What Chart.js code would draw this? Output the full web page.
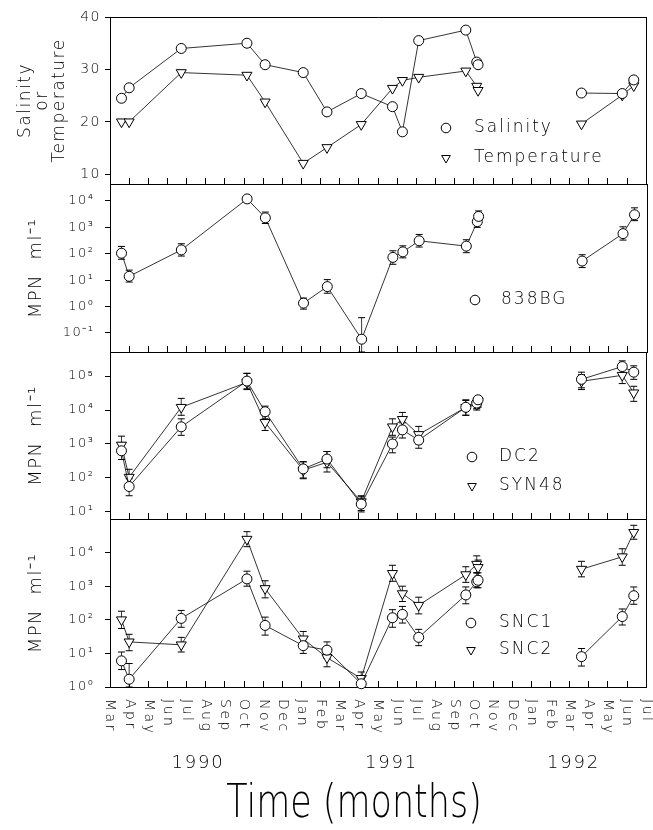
<!DOCTYPE html>
<html><head><meta charset="utf-8">
<script src="https://cdn.jsdelivr.net/npm/chart.js@4.4.1/dist/chart.umd.min.js"></script>
<style>
html,body{margin:0;padding:0;background:#fff;}
#wrap{position:relative;width:653px;height:830px;overflow:hidden;background:#fff;}
canvas{position:absolute;left:0;top:0;}
</style></head><body>
<div id="wrap">
<canvas id="c1" width="653" height="830"></canvas>
<canvas id="c2" width="653" height="830"></canvas>
<canvas id="c3" width="653" height="830"></canvas>
<canvas id="c4" width="653" height="830"></canvas>
</div>
<script>
// ---------- DATA ----------
const monthLabels = ['Mar','Apr','May','Jun','Jul','Aug','Sep','Oct','Nov','Dec','Jan','Feb',
  'Mar','Apr','May','Jun','Jul','Aug','Sep','Oct','Nov','Dec','Jan','Feb','Mar','Apr','May','Jun','Jul'];
const yearLabels = ['1990','1991','1992'];
const yearLabelMonths = [4.6, 14.7, 24.2];
const axisTitleX = 'Time (months)';

// sampling times, in months after the start of March 1990
const sampleMonths = [0.6, 1.0, 3.72, 7.15, 8.1, 10.09, 11.33, 13.12, 14.75, 15.27, 16.12, 18.58, 19.15, 19.22, 24.62, 26.75, 27.35];
const lastSample1991 = 13; // line breaks after this sample

const salinity    = [24.5, 26.5, 34.0, 35.0, 30.9, 29.4, 21.9, 25.4, 22.9, 18.1, 35.5, 37.5, 31.4, 30.9, 25.5, 25.4, 28.0];
const temperature = [20.0, 20.0, 29.4, 28.9, 23.8, 12.1, 15.1, 19.5, 26.4, 27.9, 28.5, 29.7, 26.8, 26.0, 19.6, 25.1, 26.9];

const bg838   = [105, 14, 140, 12000, 2300, 1.35, 5.7, 0.058, 73, 118, 310, 195, 1650, 2600, 53, 580, 3000];
const bg838Hi = [190, 24, 240, null, 3800, 2.1, 10.5, 0.38, 130, 200, 540, 340, 2700, 4200, 92, 1050, 5500];
const bg838Lo = [62, 8.5, 82, null, 1400, 0.8, 3.2, 0.019, 40, 70, 180, 110, 1000, 1600, 30, 330, 1800];

const dc2   = [630, 56, 3200, 71000, 8900, 185, 360, 17, 1000, 2600, 1300, 12000, 16000, 20000, 80000, 190000, 130000];
const dc2Hi = [1100, 95, 5500, 120000, 13000, 300, 600, 28, 1600, 4200, 2200, 19000, 22000, 25000, 130000, 280000, 200000];
const dc2Lo = [350, 30, 1800, 42000, 5500, 100, 200, 10, 550, 1500, 750, 7000, 11000, 13000, 45000, 110000, 80000];

const syn48   = [930, 105, 12000, 65000, 4300, 170, 290, 20, 3200, 5300, 1900, 12000, 14500, 18500, 70000, 105000, 32000];
const syn48Hi = [1700, 180, 22000, 120000, 7000, 300, 600, 30, 5500, 8500, 3300, 20000, 20000, 24000, 110000, 170000, 50000];
const syn48Lo = [500, 60, 7000, 40000, 2500, 95, 150, 11, 1800, 3000, 1000, 7000, 10000, 12000, 40000, 60000, 18000];

const snc1   = [6, 1.7, 110, 1650, 68, 17, 12.5, 1.25, 115, 145, 30, 550, 1350, 1500, 8, 125, 520];
const snc1Hi = [11, 5, 190, 2800, 120, 30, 22, 1.8, 200, 250, 52, 950, 2500, 2500, 14, 210, 950];
const snc1Lo = [3.3, 1.0, 60, 1000, 35, 10, 7, 1.0, 60, 80, 17, 300, 900, 900, 4.2, 70, 290];

const snc2   = [100, 22, 18, 25000, 850, 27, 7.5, 1.8, 2400, 600, 270, 2200, 4500, 3600, 3200, 7500, 40000];
const snc2Hi = [180, 37, 30, 42000, 1450, 45, 13, 2.8, 4200, 1000, 470, 3800, 8000, 6000, 5500, 13000, 65000];
const snc2Lo = [55, 12, 11, 15000, 450, 16, 4, 1.1, 1400, 350, 150, 1300, 2500, 2000, 1900, 4200, 25000];

const ticksPanel1 = [10, 20, 30, 40];
const ticksPanel2 = [0.1, 1, 10, 100, 1000, 10000];
const ticksPanel3 = [10, 100, 1000, 10000, 100000];
const ticksPanel4 = [1, 10, 100, 1000, 10000];

// ---------- BUILDERS ----------
const FAMILY = "'DejaVu Sans', 'Liberation Sans', sans-serif";
const WT = 200;
const SUP = {'-':'\u207B','0':'\u2070','1':'\u00B9','2':'\u00B2','3':'\u00B3','4':'\u2074','5':'\u2075','6':'\u2076','7':'\u2077','8':'\u2078','9':'\u2079'};
function powLabel(v){ const e = Math.round(Math.log10(v)); return '10' + String(e).split('').map(c => SUP[c]).join(''); }

function series(vals){
  const out = [];
  vals.forEach((v, i) => {
    out.push({x: sampleMonths[i], y: v});
    if (i === lastSample1991) out.push({x: (sampleMonths[i] + sampleMonths[i+1]) / 2, y: null});
  });
  return out;
}
function errorBars(lo, hi){
  const out = [];
  lo.forEach((l, i) => {
    if (l == null || hi[i] == null) return;
    out.push({x: sampleMonths[i], y: l}, {x: sampleMonths[i], y: hi[i]}, {x: sampleMonths[i], y: null});
  });
  return out;
}
function seriesDs(label, vals, marker){
  const tri = marker === 'tri';
  return {label, data: series(vals), borderColor:'#000', borderWidth:0.8, tension:0,
    pointStyle: tri ? 'triangle' : 'circle', pointRotation: tri ? 180 : 0, pointRadius: tri ? 5.8 : 5,
    pointBackgroundColor:'#fff', pointBorderColor:'#000', pointBorderWidth:1, clip:8, order:0, spanGaps:false};
}
function errDs(lo, hi){
  return {label:'err', data: errorBars(lo, hi), borderColor:'#000', borderWidth:0.8, tension:0,
    pointStyle:'line', pointRadius:3.5, pointBorderColor:'#000', pointBorderWidth:1,
    pointBackgroundColor:'#000', clip:8, order:10, spanGaps:false};
}

const textPlugin = {
  id: 'panelText',
  beforeUpdate(chart){ chart.ctx.letterSpacing = '1.5px'; },
  beforeDraw(chart){ chart.ctx.letterSpacing = '1.5px'; },
  afterDraw(chart, args, opts){
    const ctx = chart.ctx, ca = chart.chartArea;
    ctx.save();
    ctx.fillStyle = '#000'; ctx.strokeStyle = '#000';
    (opts.legend || []).forEach(it => {
      const ds = chart.data.datasets[it.ds];
      const sx = ca.left + it.dx, sy = ca.top + it.dy;
      ctx.save();
      ctx.lineWidth = 1; ctx.fillStyle = '#fff'; ctx.strokeStyle = '#000';
      ctx.beginPath();
      if (ds.pointStyle === 'triangle') {
        const r = 5;
        ctx.moveTo(sx - r*0.866, sy - r*0.5); ctx.lineTo(sx + r*0.866, sy - r*0.5); ctx.lineTo(sx, sy + r); ctx.closePath();
      } else {
        ctx.arc(sx, sy, 4.8, 0, Math.PI*2);
      }
      ctx.fill(); ctx.stroke();
      ctx.restore();
      ctx.font = WT + ' 17px ' + FAMILY;
      ctx.letterSpacing = '2px';
      ctx.textAlign = 'left'; ctx.textBaseline = 'middle';
      ctx.fillText(ds.label, ca.left + opts.tx, sy);
    });
    if (opts.timeAxis) {
      const xs = chart.scales.x;
      ctx.font = WT + ' 14px ' + FAMILY;
      ctx.letterSpacing = '2.5px';
      monthLabels.forEach((m, i) => {
        const x = xs.getPixelForValue(i);
        ctx.save();
        ctx.translate(x, ca.bottom + 12);
        ctx.rotate(Math.PI / 2);
        ctx.textAlign = 'left'; ctx.textBaseline = 'middle';
        ctx.fillText(m, 0, 0);
        ctx.restore();
      });
      ctx.font = WT + ' 18px ' + FAMILY;
      ctx.letterSpacing = '1.8px';
      ctx.textAlign = 'center'; ctx.textBaseline = 'alphabetic';
      yearLabels.forEach((y, i) => ctx.fillText(y, xs.getPixelForValue(yearLabelMonths[i]), ca.bottom + 81));
      ctx.save();
      ctx.translate(354, ca.bottom + 130);
      ctx.scale(0.76, 1);
      ctx.font = WT + ' 46px ' + FAMILY;
      ctx.letterSpacing = '0px';
      ctx.textAlign = 'center';
      ctx.fillText(axisTitleX, 0, 0);
      ctx.restore();
    }
    ctx.restore();
  }
};

function makePanel(id, top, bottom, yScale, datasets, textOpts){
  const scales = {
    x: {type:'linear', min:0, max:28, position:'bottom', afterFit: s => { s.height = 0; },
        ticks:{display:false, stepSize:1},
        grid:{display:true, drawOnChartArea:false, drawTicks:true, tickLength:-6, color:'#000', lineWidth:1},
        border:{display:true, color:'#000', width:1}},
    xt: {type:'linear', min:0, max:28, position:'top', afterFit: s => { s.height = 0; },
        ticks:{display:false}, grid:{display:false}, border:{display:true, color:'#000', width:1}},
    yr: {type:'linear', min:0, max:1, position:'right', afterFit: s => { s.width = 0; },
        ticks:{display:false}, grid:{display:false}, border:{display:true, color:'#000', width:1}},
    y: yScale
  };
  datasets.forEach(d => { d.xAxisID = 'x'; d.yAxisID = 'y'; });
  return new Chart(document.getElementById(id), {
    type:'line',
    data:{datasets},
    options:{
      responsive:false, animation:false, events:[], devicePixelRatio:1,
      layout:{padding:{top:top, bottom:830 - bottom, left:0, right:5}},
      plugins:{legend:{display:false}, tooltip:{enabled:false}, panelText:textOpts},
      scales
    },
    plugins:[textPlugin]
  });
}

function logY(min, max, tickVals, pad){
  return {type:'logarithmic', position:'left', min, max,
    afterFit: s => { s.width = 110; },
    afterBuildTicks: s => { s.ticks = tickVals.map(v => ({value:v})); },
    ticks:{autoSkip:false, color:'#000', padding:pad, font:{family:FAMILY, size:13, weight:WT}, callback: v => powLabel(v)},
    grid:{drawOnChartArea:false, drawTicks:true, tickLength:5, color:'#000', lineWidth:1},
    border:{display:true, color:'#000', width:1},
    title:{display:true, text:'MPN  ml\u207B\u00B9', color:'#000', font:{family:FAMILY, size:18, weight:WT, lineHeight:1.2}, padding:{top:26, bottom:0}}
  };
}

makePanel('c1', 17, 184, {
  type:'linear', position:'left', min:8.15, max:40,
  afterFit: s => { s.width = 110; },
  afterBuildTicks: s => { s.ticks = ticksPanel1.map(v => ({value:v})); },
  ticks:{autoSkip:false, color:'#000', padding:4, font:{family:FAMILY, size:14, weight:WT}},
  grid:{drawOnChartArea:false, drawTicks:true, tickLength:5, color:'#000', lineWidth:1},
  border:{display:true, color:'#000', width:1},
  title:{display:true, text:['Salinity','or','Temperature'], color:'#000', font:{family:FAMILY, size:17, weight:WT, lineHeight:1.0}, padding:{top:17.5, bottom:0}}
}, [seriesDs('Salinity', salinity, 'circle'), seriesDs('Temperature', temperature, 'tri')],
  {legend:[{ds:0, dx:336, dy:111}, {ds:1, dx:336, dy:141}], tx:364});

makePanel('c2', 184, 352, logY(0.019, 44000, ticksPanel2, 10.5),
  [errDs(bg838Lo, bg838Hi), seriesDs('838BG', bg838, 'circle')],
  {legend:[{ds:1, dx:365, dy:116}], tx:391});

makePanel('c3', 352, 519, logY(6.2, 510000, ticksPanel3, 10.5),
  [errDs(dc2Lo, dc2Hi), errDs(syn48Lo, syn48Hi), seriesDs('DC2', dc2, 'circle'), seriesDs('SYN48', syn48, 'tri')],
  {legend:[{ds:2, dx:362, dy:105}, {ds:3, dx:362, dy:134}], tx:389});

makePanel('c4', 519, 687, logY(1, 100000, ticksPanel4, 10.5),
  [errDs(snc1Lo, snc1Hi), errDs(snc2Lo, snc2Hi), seriesDs('SNC1', snc1, 'circle'), seriesDs('SNC2', snc2, 'tri')],
  {legend:[{ds:2, dx:361, dy:104}, {ds:3, dx:361, dy:131}], tx:389, timeAxis:true});
</script>
</body></html>
